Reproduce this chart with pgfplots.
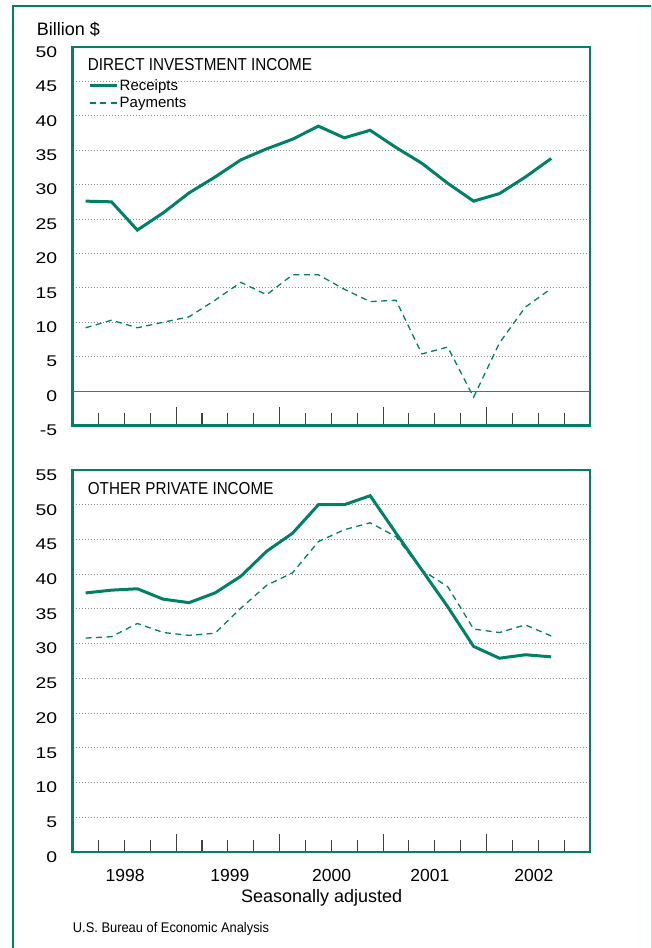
\documentclass[border=0pt]{standalone}
\usepackage{pgfplots}
\pgfplotsset{compat=1.18}
\usepackage{pgfplotstable}
\usepackage{graphicx}
\usepackage{fontspec}
\setmainfont{Liberation Sans}

\definecolor{bea}{RGB}{0,128,100}
\definecolor{beapale}{RGB}{200,225,215}

% quarterly values, 1998Q1-2002Q3, plotted at mid-quarter
\pgfplotstableread{
q    rtop ptop rbot pbot
0.5  27.6  9.2 37.3 30.8
1.5  27.5 10.3 37.7 31.0
2.5  23.4  9.2 37.9 32.9
3.5  25.9 10.0 36.4 31.6
4.5  28.8 10.8 35.9 31.2
5.5  31.1 13.2 37.3 31.5
6.5  33.6 15.8 39.7 35.1
7.5  35.2 14.0 43.3 38.4
8.5  36.6 16.9 45.9 40.2
9.5  38.5 16.9 50.0 44.7
10.5 36.8 14.8 50.0 46.4
11.5 37.9 13.0 51.3 47.4
12.5 35.4 13.2 45.9 45.4
13.5 33.1  5.4 40.6 40.6
14.5 30.2  6.4 35.3 38.2
15.5 27.6 -0.9 29.6 32.1
16.5 28.7  7.0 27.9 31.6
17.5 31.1 12.2 28.4 32.7
18.5 33.8 14.9 28.1 31.1
}\income

\pgfplotsset{
  beapanel/.style={
    scale only axis, anchor=south west, width=517.3pt,
    xmin=0, xmax=20,
    axis line style={bea, line width=2.5pt},
    xtick={4,8,12,16}, xticklabels={},
    minor xtick={1,2,3,5,6,7,9,10,11,13,14,15,17,18,19},
    xtick pos=bottom, tick align=inside,
    major tick length=18pt, minor tick length=12pt,
    xtick style={black!75, line width=1.1pt},
    ytick style={draw=none},
    ymajorgrids,
    major grid style={black!45, line width=0.9pt, dash pattern=on 0.9pt off 2.1pt},
    /pgf/number format/assume math mode=true,
    yticklabel={\scalebox{1.25}[1]{\pgfmathprintnumber{\tick}}},
    yticklabel style={anchor=east, inner sep=0pt, xshift=-15.4pt, yshift=-5pt,
      font=\fontsize{15.5}{16}\selectfont},
    legend image code/.code={\draw[#1] (0pt,0pt) -- (27pt,0pt);},
  },
  rec/.style={bea, line width=3pt},
  pay/.style={bea, line width=1.3pt, dash pattern=on 6pt off 4.5pt},
}

\begin{document}
\begin{tikzpicture}[x=1pt,y=1pt]
\path[use as bounding box] (0,0) rectangle (652,948);
\draw[bea, line width=2pt] (13,0) -- (13,942) -- (651,942);
\draw[beapale, line width=1pt] (651,942) -- (651,0);

\node[anchor=base west, inner sep=0pt, font=\fontsize{18}{20}\selectfont] at (36.7,912) {Billion \$};

\begin{axis}[beapanel, at={(72.7pt,522.5pt)}, height=378.5pt,
  ymin=-5, ymax=50, ytick={-5,0,...,50},
  legend style={at={(axis description cs:0.0296,0.918)}, anchor=north west,
    draw=none, fill=none, inner sep=0pt, row sep=2pt,
    font=\fontsize{15}{15}\selectfont,
    nodes={inner sep=1.5pt}},
  legend cell align=left]
\addplot[rec] table[x=q, y=rtop] {\income};
\addplot[pay] table[x=q, y=ptop] {\income};
\addplot[black!60, line width=1.1pt, forget plot] coordinates {(0,0) (20,0)};
\legend{Receipts, Payments}
\end{axis}

\begin{axis}[beapanel, at={(72.7pt,96pt)}, height=382pt,
  ymin=0, ymax=55, ytick={0,5,...,55},
  extra x ticks={2.03,6.08,10.01,13.81,17.83},
  extra x tick labels={1998,1999,2000,2001,2002},
  extra x tick style={major tick length=0pt, xtick style={draw=none},
    xticklabel style={anchor=base, inner sep=0pt, yshift=-29.7pt,
      font=\fontsize{17.5}{18}\selectfont}}]
\addplot[rec] table[x=q, y=rbot] {\income};
\addplot[pay] table[x=q, y=pbot] {\income};
\end{axis}

\node[anchor=base west, inner sep=0pt, font=\fontsize{17.3}{18}\selectfont] at (87.7,877.3)
  {\scalebox{0.88}[1]{DIRECT INVESTMENT INCOME}};
\node[anchor=base west, inner sep=0pt, font=\fontsize{17.3}{18}\selectfont] at (87.7,453)
  {\scalebox{0.88}[1]{OTHER PRIVATE INCOME}};
\node[anchor=base, inner sep=0pt, font=\fontsize{18}{20}\selectfont] at (321.7,45) {Seasonally adjusted};
\node[anchor=base west, inner sep=0pt, font=\fontsize{14}{15}\selectfont] at (72.7,15)
  {\scalebox{0.92}[1]{U.S. Bureau of Economic Analysis}};
\end{tikzpicture}
\end{document}
